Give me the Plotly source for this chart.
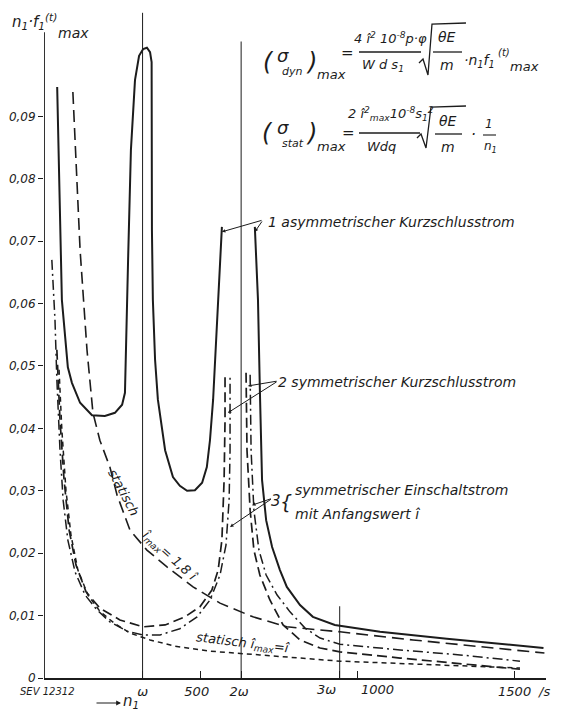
import math
import plotly.graph_objects as go

# ---------------- data ----------------
OMEGA = 2 * math.pi * 50          # 314.16 1/s

# curve 1: asymmetrischer Kurzschlusstrom (solid) - left part (up to the 2w spike)
c1a_n = [42, 51, 57, 76, 89, 115, 153, 194, 226, 249, 258, 268, 277, 290, 303, 316, 328, 338, 343,
         344, 347, 354, 363, 386, 411, 433, 456, 481, 504, 519, 529, 539, 548, 555, 567]
c1a_v = [0.0947, 0.0766, 0.0606, 0.0498, 0.0473, 0.0441, 0.0421, 0.0420, 0.0425, 0.0438, 0.0457,
         0.0670, 0.0846, 0.0958, 0.0997, 0.1008, 0.1010, 0.1003, 0.0987,
         0.0718, 0.0606, 0.0510, 0.0446, 0.0365, 0.0322, 0.0308, 0.0300, 0.0301, 0.0313, 0.0338,
         0.0381, 0.0446, 0.0542, 0.0606, 0.0723]
# curve 1 - right part
c1b_n = [672, 682, 688, 695, 708, 727, 752, 774, 816, 857, 927, 1071, 1284, 1592]
c1b_v = [0.0723, 0.0606, 0.0462, 0.0317, 0.0253, 0.0210, 0.0173, 0.0146, 0.0117, 0.0098,
         0.0085, 0.0074, 0.0063, 0.0048]

# curve 2: symmetrischer Kurzschlusstrom (long dash)
c2a_n = [41, 51, 64, 80, 102, 134, 178, 242, 316, 386, 449, 497, 535, 555, 567, 574, 577, 577]
c2a_v = [0.0526, 0.0413, 0.0317, 0.0237, 0.0181, 0.0138, 0.0112, 0.0093, 0.0082, 0.0085, 0.0098,
         0.0114, 0.0141, 0.0173, 0.0221, 0.0317, 0.0413, 0.0486]
c2b_n = [644, 647, 657, 669, 688, 720, 762, 816, 880, 943, 1135, 1358, 1517]
c2b_v = [0.0489, 0.0365, 0.0269, 0.0205, 0.0165, 0.0125, 0.0085, 0.0061, 0.0048, 0.0042,
         0.0032, 0.0022, 0.0014]

# curve 3: symmetrischer Einschaltstrom mit Anfangswert (dash-dot)
c3a_n = [25, 35, 41, 51, 61, 76, 99, 131, 169, 210, 265, 316, 370, 433, 488, 529, 561, 580, 590, 593, 593]
c3a_v = [0.0670, 0.0574, 0.0478, 0.0365, 0.0285, 0.0221, 0.0170, 0.0133, 0.0109, 0.0090, 0.0075,
         0.0069, 0.0069, 0.0079, 0.0098, 0.0125, 0.0165, 0.0213, 0.0285, 0.0365, 0.0486]
c3b_n = [657, 660, 669, 685, 708, 743, 784, 832, 880, 943, 1135, 1326, 1517]
c3b_v = [0.0486, 0.0365, 0.0269, 0.0205, 0.0165, 0.0133, 0.0106, 0.0080, 0.0064, 0.0054,
         0.0045, 0.0037, 0.0027]

# static curve, i_max = 1.8 i (long dash)
s18_n = [92, 115, 137, 156, 178, 210, 233, 274, 328, 392, 475, 561, 666, 774, 943, 1176, 1595]
s18_v = [0.0939, 0.0686, 0.0526, 0.0425, 0.0381, 0.0338, 0.0293, 0.0237, 0.0205, 0.0178, 0.0146,
         0.0120, 0.0098, 0.0082, 0.0074, 0.0061, 0.0040]

# static curve, i_max = i (short dash)
s1_n = [48, 57, 70, 86, 108, 140, 178, 226, 274, 338, 418, 529, 688, 943, 1198, 1517]
s1_v = [0.0494, 0.0397, 0.0301, 0.0229, 0.0173, 0.0133, 0.0107, 0.0087, 0.0072, 0.0061, 0.0051,
        0.0043, 0.0037, 0.0027, 0.0022, 0.0016]

# vertical reference lines at w, 2w, 3w
vline_n = [OMEGA, 2 * OMEGA, 3 * OMEGA]
vline_top = [0.1066, 0.1020, 0.0115]

# axis ticks
NB = "\u00a0"
y_tickvals = [0, 0.01, 0.02, 0.03, 0.04, 0.05, 0.06, 0.07, 0.08, 0.09]
y_ticktext = ["0", "0,01", "0,02", "0,03", "0,04", "0,05", "0,06", "0,07", "0,08", "0,09"]
x_tickvals = [OMEGA, 500, 2 * OMEGA, 3 * OMEGA, 1000, 1500]
x_ticktext = ["ω", "500" + NB * 2, "2ω" + NB, "", "", "1500"]
# the two crowded labels are set beside their ticks (as drawn in the original)
x_side_vals = [3 * OMEGA, 1000]
x_side_text = ["3ω", "1000"]
x_side_shift = [-13, 20]

# leader lines (label point -> curve point), data units
lead_from = [(698, 0.0734), (698, 0.0734), (746, 0.0476), (746, 0.0476), (728, 0.0288), (728, 0.0288)]
lead_to = [(567, 0.0715), (672, 0.0715), (586, 0.0425), (650, 0.0468), (593, 0.0242), (663, 0.0277)]

# ---------------- figure ----------------
# the page adds an 8 px body margin, so the figure is 8 px smaller and
# all layout positions below are given in page pixels
PAGE_OFF = 8
W, H = 567 - PAGE_OFF, 715 - PAGE_OFF
X0, Y0 = 44, 678            # page position of the origin
X1, YT = 546, 8             # page position of the plot's right / top edges
PW, PH = X1 - X0, Y0 - YT
L, T = X0 - PAGE_OFF, YT - PAGE_OFF
R, B = W - L - PW, H - T - PH
X_MAX = 1600
Y_MAX = 0.10737
INK = "#1c1c1c"
FONT = "DejaVu Sans"

fig = go.Figure()


def line(xs, ys, width=1.7, dash="solid"):
    fig.add_trace(go.Scatter(x=xs, y=ys, mode="lines", hoverinfo="skip", showlegend=False,
                             line=dict(color=INK, width=width, dash=dash)))


for n, top in zip(vline_n, vline_top):
    line([n, n], [0, top], width=1.0)

line(c1a_n, c1a_v, width=2.0)
line(c1b_n, c1b_v, width=2.0)
line(c2a_n, c2a_v, width=1.7, dash="10px,5px")
line(c2b_n, c2b_v, width=1.7, dash="10px,5px")
line(c3a_n, c3a_v, width=1.5, dash="10px,4px,2px,4px")
line(c3b_n, c3b_v, width=1.5, dash="10px,4px,2px,4px")
line(s18_n, s18_v, width=1.6, dash="12px,6px")
line(s1_n, s1_v, width=1.5, dash="5px,4px")


def px(x):
    return (x - X0) / PW


def py(y):
    return (Y0 - y) / PH


def txt(s, x, y, size=13, angle=0, xanchor="center"):
    return dict(text=s, x=px(x), y=py(y), xref="paper", yref="paper", showarrow=False,
                font=dict(family=FONT, size=size, color=INK, style="italic"),
                textangle=angle, xanchor=xanchor, yanchor="middle")


ann = []
# x labels beside their ticks
for v, s, sh in zip(x_side_vals, x_side_text, x_side_shift):
    ann.append(dict(text=s, x=v, y=0, xref="x", yref="y", showarrow=False, xshift=sh,
                    yanchor="top", yshift=-2,
                    font=dict(family=FONT, size=13, color=INK, style="italic")))
# axis title
ann.append(txt("n<sub>1</sub>·f<sub>1</sub><sup>(t)</sup>", 34, 22, 15))
ann.append(txt("max", 73, 33, 14))
# formula 1
ann += [txt("(", 268, 62, 24), txt("σ", 283, 56, 18), txt("dyn", 292, 72, 11), txt(")", 311, 62, 24),
        txt("max", 331, 74, 13), txt("=", 347, 53, 15),
        txt("4 î<sup>2</sup> 10<sup>-8</sup>p·φ", 390, 38, 13), txt("W d s<sub>1</sub>", 383, 65, 13),
        txt("θE", 447, 37, 14), txt("m", 447, 65, 14),
        txt("·n<sub>1</sub>f<sub>1</sub>", 479, 61, 14), txt("(t)", 504, 52, 10), txt("max", 524, 67, 13)]
# formula 2
ann += [txt("(", 267, 133, 24), txt("σ", 283, 127, 18), txt("stat", 293, 143, 11), txt(")", 311, 133, 24),
        txt("max", 331, 147, 13), txt("=", 348, 133, 15),
        txt("2 î<sup>2</sup><sub>max</sub>10<sup>-8</sup>s<sub>1</sub><sup>2</sup>", 391, 114, 13),
        txt("Wdq", 381, 147, 13),
        txt("θE", 448, 121, 14), txt("m", 448, 147, 14),
        txt("·", 473, 135, 15), txt("1", 489, 124, 12), txt("n<sub>1</sub>", 490, 147, 12)]
# curve labels
ann.append(txt("1 asymmetrischer Kurzschlusstrom", 266, 222, 14, xanchor="left"))
ann.append(txt("2 symmetrischer Kurzschlusstrom", 276, 382, 14, xanchor="left"))
ann.append(txt("3", 276, 501, 15))
ann.append(txt("{", 286, 502, 19))
ann.append(txt("symmetrischer Einschaltstrom", 293, 490, 14, xanchor="left"))
ann.append(txt("mit Anfangswert î", 293, 514, 14, xanchor="left"))
ann.append(txt("statisch", 124, 492, 13, angle=62))
ann.append(txt("î<sub>max</sub>= 1,8 î", 170, 556, 13, angle=42))
ann.append(txt("statisch î<sub>max</sub>=î", 243, 643, 13, angle=7))
# misc
ann.append(txt("/s", 536, 691, 13, xanchor="left"))
ann.append(txt("SEV 12312", 47, 691, 10))
ann.append(txt("n<sub>1</sub>", 131, 701, 15))
ann.append(dict(x=px(121), y=py(703), xref="paper", yref="paper", ax=-26, ay=0, text="",
                showarrow=True, arrowhead=2, arrowsize=0.8, arrowwidth=1.2, arrowcolor=INK))
# leader arrows
for (fx, fy), (tx, ty) in zip(lead_from, lead_to):
    ann.append(dict(x=tx, y=ty, ax=fx, ay=fy, xref="x", yref="y", axref="x", ayref="y", text="",
                    showarrow=True, arrowhead=2, arrowsize=0.7, arrowwidth=1.0, arrowcolor=INK,
                    standoff=0))

shapes = []


def seg(x1, y1, x2, y2, w=1.3):
    shapes.append(dict(type="line", xref="paper", yref="paper", x0=px(x1), y0=py(y1),
                       x1=px(x2), y1=py(y2), line=dict(color=INK, width=w)))


def path(pts, w=1.3):
    d = "M " + " L ".join(f"{px(a):.4f},{py(b):.4f}" for a, b in pts)
    shapes.append(dict(type="path", xref="paper", yref="paper", path=d,
                       line=dict(color=INK, width=w)))


# fraction bars & root signs
seg(359, 52, 421, 52)
seg(433, 52, 462, 52)
path([(419, 63), (423, 59), (428, 75), (432, 24), (466, 23)])
seg(359, 133, 420, 133)
seg(435, 134, 462, 134)
path([(417, 138), (421, 134), (426, 148), (431, 107), (466, 106)])
seg(483, 135, 496, 135, 1.1)
# y axis line (stops below the top)
shapes.append(dict(type="line", xref="x", yref="y", x0=0, x1=0, y0=0, y1=0.1035,
                   line=dict(color=INK, width=1.8)))

fig.update_layout(
    width=W, height=H, margin=dict(l=L, r=R, t=T, b=B, pad=0),
    paper_bgcolor="white", plot_bgcolor="white",
    annotations=ann, shapes=shapes,
    xaxis=dict(range=[0, X_MAX], showgrid=False, zeroline=False, showline=True, linecolor=INK,
               linewidth=1.8, ticks="inside", ticklen=7, tickwidth=1.3, tickcolor=INK,
               tickvals=x_tickvals, ticktext=x_ticktext, tickangle=0, automargin=False,
               tickfont=dict(family=FONT, size=13, color=INK, style="italic")),
    yaxis=dict(range=[0, Y_MAX], showgrid=False, zeroline=False, showline=False,
               ticks="outside", ticklen=5, tickwidth=1.3, tickcolor=INK, automargin=False,
               tickvals=y_tickvals, ticktext=y_ticktext,
               tickfont=dict(family=FONT, size=12, color=INK, style="italic")),
)

fig.write_html("out.html")
